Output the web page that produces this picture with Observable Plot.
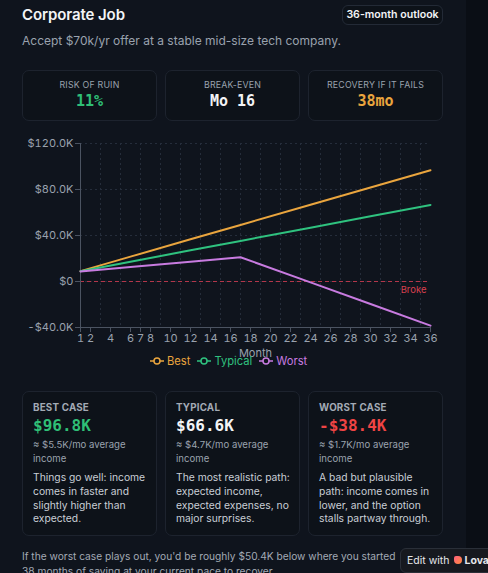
<!DOCTYPE html>
<html>
<head>
<meta charset="utf-8">
<script src="https://cdn.jsdelivr.net/npm/d3@7"></script>
<script src="https://cdn.jsdelivr.net/npm/@observablehq/plot@0.6"></script>
<style>
  html, body { margin: 0; padding: 0; }
  body { width: 488px; height: 573px; overflow: hidden; background: #0a0e15; font-family: Inter, "Noto Sans", sans-serif; position: relative; }
  .panel { position: absolute; left: 0; top: 0; width: 466px; height: 573px; background: #0f141d; }
  .title { position: absolute; left: 22px; top: 5px; font-size: 15px; font-weight: 600; color: #f3f4f6; letter-spacing: -0.1px; }
  .badge { position: absolute; left: 342px; top: 5px; width: 101px; height: 20px; border: 1px solid #232a36; border-radius: 6px; box-sizing: border-box; font-size: 10.6px; font-weight: 600; color: #f3f4f6; text-align: center; line-height: 18px; background: #0d1219; white-space: nowrap; }
  .sub { position: absolute; left: 22px; top: 33px; font-size: 12px; color: #9aa2ae; white-space: nowrap; }
  .stat { position: absolute; top: 70px; height: 51px; border: 1px solid #1d232e; border-radius: 7px; box-sizing: border-box; text-align: center; background: #0d1219; }
  .stat .lab { margin-top: 8px; font-size: 8.8px; color: #9aa2ae; letter-spacing: 0.2px; }
  .stat .val { margin-top: 2px; font-family: "DejaVu Sans Mono", "Liberation Mono", monospace; font-weight: 700; font-size: 15px; }
  #chart { position: absolute; left: 22px; top: 133px; }
  .legend { position: absolute; top: 354px; left: 150px; display: flex; gap: 7px; font-size: 11.2px; }
  .legend .it { display: flex; align-items: center; gap: 3px; }
  .case { position: absolute; top: 391px; height: 145px; border: 1px solid #1d232e; border-radius: 7px; box-sizing: border-box; background: #0d1219; padding: 10px 6px 0 10px; }
  .case .lab { font-size: 9.8px; font-weight: 700; color: #a3aab5; letter-spacing: 0.2px; }
  .case .val { margin-top: 3px; font-family: "DejaVu Sans Mono", "Liberation Mono", monospace; font-weight: 700; font-size: 16px; }
  .case .avg { margin-top: 3px; font-size: 9.6px; color: #9aa2ae; line-height: 14px; }
  .case .desc { margin-top: 5px; font-size: 10.3px; color: #c9ced6; line-height: 13.8px; }
  .foot { position: absolute; left: 22px; top: 549px; width: 460px; font-size: 10.2px; color: #a3aab5; line-height: 15px; white-space: nowrap; }
  .lov { position: absolute; left: 400px; top: 548px; width: 100px; height: 25px; background: #16191f; border: 1px solid #2a2f38; border-radius: 6px; box-sizing: border-box; font-size: 10.5px; color: #e5e7eb; line-height: 23px; padding-left: 6px; white-space: nowrap; }
  .lov b { font-weight: 700; }
  .heart { display: inline-block; width: 8px; height: 8px; border-radius: 2px 4px 4px 4px; background: linear-gradient(135deg, #ff5f7e, #ff8a3d); margin: 0 2px 0 5px; }
</style>
</head>
<body>
<div class="panel"></div>
<div class="title">Corporate Job</div>
<div class="badge">36-month outlook</div>
<div class="sub">Accept $70k/yr offer at a stable mid-size tech company.</div>
<div id="stats"></div>
<div id="chart"></div>
<div class="legend" id="legend"></div>
<div id="cases"></div>
<div class="foot">If the worst case plays out, you'd be roughly $50.4K below where you started<br>38 months of saving at your current pace to recover.</div>
<div class="lov">Edit with<span class="heart"></span><b>Lovable</b></div>
<script>
// ---- data ----
const months = [1, 6, 12, 17, 24, 30, 36];
const bestValues = [9000, 21600, 36700, 49200, 66800, 81800, 96800];
const typicalValues = [9000, 17200, 27100, 35300, 46800, 56700, 66600];
const worstValues = [8700, 12600, 17200, 21100, -800, -19600, -38400];
const seriesNames = ["Best", "Typical", "Worst"];
const seriesColors = ["#eaa53e", "#2fc27f", "#c87be0"];
const xTicks = [1, 2, 4, 6, 7, 8, 10, 12, 14, 16, 18, 20, 22, 24, 26, 28, 30, 32, 34, 36];
const xGrid = [3, 5, 7, 9, 11, 13, 15, 17, 19, 21, 23, 25, 27, 29, 31, 33, 35];
const yTicks = [-40000, 0, 40000, 80000, 120000];
const brokeLevel = [0];

const statLabels = ["RISK OF RUIN", "BREAK-EVEN", "RECOVERY IF IT FAILS"];
const statValues = ["11%", "Mo 16", "38mo"];
const statColors = ["#2fbf76", "#f3f4f6", "#eaa53e"];

const caseLabels = ["BEST CASE", "TYPICAL", "WORST CASE"];
const caseValues = ["$96.8K", "$66.6K", "-$38.4K"];
const caseColors = ["#2fbf76", "#f3f4f6", "#ef4444"];
const caseAvg = ["≈ $5.5K/mo average income", "≈ $4.7K/mo average income", "≈ $1.7K/mo average income"];
const caseDesc = [
  "Things go well: income comes in faster and slightly higher than expected.",
  "The most realistic path: expected income, expected expenses, no major surprises.",
  "A bad but plausible path: income comes in lower, and the option stalls partway through."
];

// ---- cards ----
const colLeft = [22, 165, 308];
const colWidth = [135, 135, 135];
const statsEl = document.getElementById("stats");
statLabels.forEach((l, i) => {
  const d = document.createElement("div");
  d.className = "stat";
  d.style.left = colLeft[i] + "px"; d.style.width = colWidth[i] + "px";
  d.innerHTML = `<div class="lab">${l}</div><div class="val" style="color:${statColors[i]}">${statValues[i]}</div>`;
  statsEl.appendChild(d);
});
const casesEl = document.getElementById("cases");
caseLabels.forEach((l, i) => {
  const d = document.createElement("div");
  d.className = "case";
  d.style.left = colLeft[i] + "px"; d.style.width = colWidth[i] + "px";
  d.innerHTML = `<div class="lab">${l}</div><div class="val" style="color:${caseColors[i]}">${caseValues[i]}</div><div class="avg">${caseAvg[i]}</div><div class="desc">${caseDesc[i]}</div>`;
  casesEl.appendChild(d);
});

// ---- chart ----
const allValues = [bestValues, typicalValues, worstValues];
const rows = [];
seriesNames.forEach((s, si) => months.forEach((m, mi) => rows.push({month: m, value: allValues[si][mi], series: s})));

const fmt = d => d === 0 ? "$0" : (d < 0 ? "-" : "") + "$" + (Math.abs(d) / 1000).toFixed(1) + "K";
const axisColor = "#4b5361";
const gridColor = "#252d3b";

const chart = Plot.plot({
  width: 421,
  height: 228,
  marginLeft: 58,
  marginRight: 13,
  marginTop: 10,
  marginBottom: 34,
  style: {background: "transparent", color: "#9aa2ae", fontFamily: "Inter, sans-serif", fontSize: "11px"},
  x: {domain: [1, 36]},
  y: {domain: [-40000, 120000]},
  color: {domain: seriesNames, range: seriesColors},
  marks: [
    Plot.ruleX(xGrid, {stroke: gridColor, strokeDasharray: "2,3"}),
    Plot.ruleY(yTicks, {stroke: gridColor, strokeDasharray: "2,3"}),
    Plot.ruleY(brokeLevel, {stroke: "#b3364a", strokeDasharray: "4,3", strokeWidth: 1}),
    Plot.text(brokeLevel, {x: 36, y: d => d, text: () => "Broke", textAnchor: "end", dx: -4, dy: 8, fill: "#d8404f", fontSize: 9.5}),
    Plot.axisY({ticks: yTicks, tickFormat: fmt, tickSize: 5, tickPadding: 2, stroke: axisColor, label: null}),
    Plot.axisX({ticks: xTicks, tickFormat: d => String(d), tickSize: 5, tickPadding: 2, stroke: axisColor, label: "Month", labelAnchor: "center", labelArrow: "none", labelOffset: 29}),
    Plot.ruleX([1], {stroke: axisColor}),
    Plot.ruleY([-40000], {stroke: axisColor}),
    Plot.line(rows, {x: "month", y: "value", z: "series", stroke: "series", strokeWidth: 2})
  ]
});
document.getElementById("chart").appendChild(chart);

// ---- legend ----
const legendEl = document.getElementById("legend");
seriesNames.forEach((s, i) => {
  const c = seriesColors[i];
  const it = document.createElement("div");
  it.className = "it";
  it.innerHTML = `<svg width="14" height="10"><line x1="0" y1="5" x2="14" y2="5" stroke="${c}" stroke-width="1.5"/><circle cx="7" cy="5" r="3" fill="#0f141d" stroke="${c}" stroke-width="1.5"/></svg><span style="color:${c}">${s}</span>`;
  legendEl.appendChild(it);
});
</script>
</body>
</html>
